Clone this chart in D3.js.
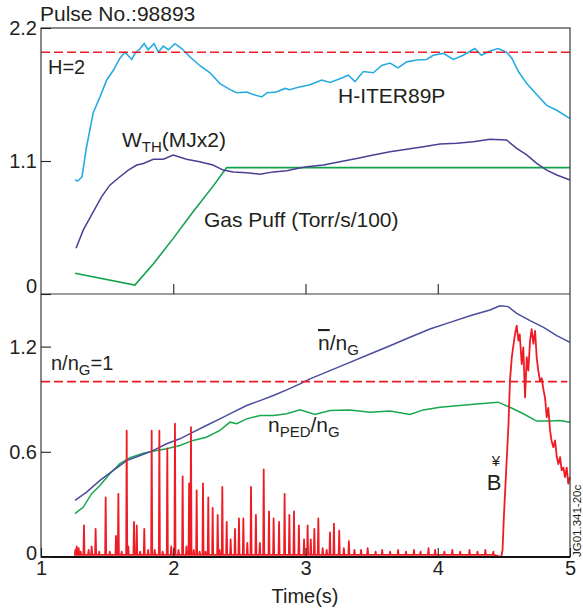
<!DOCTYPE html>
<html>
<head>
<meta charset="utf-8">
<script src="https://cdn.jsdelivr.net/npm/d3@7"></script>
<style>
  body { margin: 0; background: #fff; }
  text { font-family: "Liberation Sans", Arial, sans-serif; fill: #231f20; }
</style>
</head>
<body>
<div id="pulse"></div>
<script>
// tick values
var timeTicks = [1, 2, 3, 4, 5];
var topTicks = [0, 1.1, 2.2];
var bottomTicks = [0, 0.6, 1.2];

// top panel traces [time, value]
var hIter = [
    [1.257, 0.943], [1.28, 0.935], [1.31, 0.97], [1.345, 1.22], [1.395, 1.50], [1.446, 1.63],
    [1.497, 1.77], [1.547, 1.85], [1.597, 1.95], [1.635, 2.0], [1.686, 1.94], [1.71, 1.99],
    [1.75, 2.03], [1.78, 2.07], [1.81, 2.02], [1.854, 2.07], [1.887, 2.0], [1.925, 2.05],
    [1.963, 2.02], [2.013, 2.07], [2.064, 2.03], [2.127, 1.96], [2.20, 1.89], [2.278, 1.83],
    [2.353, 1.74], [2.43, 1.69], [2.48, 1.665], [2.555, 1.67], [2.605, 1.65], [2.669, 1.63],
    [2.71, 1.665], [2.78, 1.67], [2.845, 1.70], [2.88, 1.69], [2.946, 1.71], [3.034, 1.73],
    [3.122, 1.77], [3.185, 1.75], [3.26, 1.78], [3.324, 1.81], [3.374, 1.756], [3.437, 1.84],
    [3.513, 1.83], [3.576, 1.89], [3.639, 1.91], [3.70, 1.87], [3.765, 1.92], [3.84, 1.935],
    [3.916, 1.94], [3.966, 1.975], [4.042, 1.99], [4.118, 1.94], [4.193, 1.975], [4.28, 2.03],
    [4.33, 1.975], [4.395, 2.01], [4.457, 2.03], [4.52, 2.0], [4.56, 1.95], [4.61, 1.84],
    [4.673, 1.74], [4.748, 1.65], [4.824, 1.56], [4.90, 1.52], [5.0, 1.45]
];

var wTh = [
    [1.265, 0.378], [1.32, 0.53], [1.395, 0.68], [1.459, 0.805], [1.52, 0.90], [1.597, 0.97],
    [1.66, 1.025], [1.724, 1.067], [1.774, 1.08], [1.85, 1.114], [1.925, 1.114], [2.0, 1.15],
    [2.10, 1.114], [2.20, 1.094], [2.30, 1.067], [2.378, 1.025], [2.454, 1.01], [2.555, 1.003],
    [2.656, 0.99], [2.757, 1.01], [2.858, 1.02], [2.946, 1.04], [3.009, 1.053], [3.135, 1.067],
    [3.26, 1.094], [3.387, 1.12], [3.513, 1.15], [3.639, 1.177], [3.765, 1.197], [3.891, 1.218],
    [4.017, 1.24], [4.143, 1.246], [4.269, 1.26], [4.395, 1.28], [4.52, 1.274], [4.597, 1.205],
    [4.673, 1.15], [4.748, 1.08], [4.824, 1.025], [4.90, 0.984], [5.0, 0.943]
];

var gasPuff = [
    [1.257, 0.171], [1.71, 0.074], [1.85, 0.25], [2.0, 0.46], [2.15, 0.68], [2.30, 0.89],
    [2.404, 1.045], [3.0, 1.045], [4.0, 1.045], [5.0, 1.045]
];

// bottom panel traces
var nBar = [
    [1.257, 0.323], [1.345, 0.37], [1.446, 0.437], [1.547, 0.494], [1.648, 0.55], [1.75, 0.579],
    [1.85, 0.608], [1.95, 0.646], [2.05, 0.674], [2.15, 0.712], [2.25, 0.75], [2.353, 0.788],
    [2.454, 0.826], [2.555, 0.864], [2.656, 0.892], [2.757, 0.921], [2.858, 0.953], [2.958, 0.987],
    [3.034, 1.016], [3.185, 1.063], [3.336, 1.11], [3.488, 1.158], [3.639, 1.205], [3.79, 1.253],
    [3.941, 1.30], [4.093, 1.338], [4.244, 1.376], [4.395, 1.409], [4.47, 1.433], [4.533, 1.428],
    [4.597, 1.39], [4.698, 1.348], [4.80, 1.31], [4.90, 1.263], [5.0, 1.224]
];

var nPed = [
    [1.257, 0.247], [1.32, 0.285], [1.383, 0.361], [1.446, 0.408], [1.52, 0.475], [1.597, 0.532],
    [1.673, 0.566], [1.774, 0.592], [1.875, 0.608], [1.95, 0.617], [2.05, 0.636], [2.15, 0.665],
    [2.25, 0.683], [2.353, 0.722], [2.429, 0.769], [2.48, 0.76], [2.555, 0.788], [2.656, 0.807],
    [2.757, 0.807], [2.858, 0.817], [2.958, 0.839], [3.072, 0.813], [3.185, 0.835], [3.336, 0.839],
    [3.488, 0.826], [3.639, 0.832], [3.79, 0.813], [3.891, 0.839], [4.017, 0.854], [4.168, 0.864],
    [4.294, 0.873], [4.457, 0.883], [4.546, 0.854], [4.647, 0.817], [4.748, 0.775], [4.849, 0.775],
    [4.924, 0.778], [5.0, 0.769]
];

// D-alpha: ELM spikes [time, height] then the tail after 4.48 s
var dAlphaBase = 0.012;
var dAlphaSpikes = [
    [1.26, 0.04], [1.27, 0.06], [1.285, 0.05], [1.30, 0.03], [1.325, 0.18], [1.36, 0.04],
    [1.383, 0.06], [1.413, 0.16], [1.44, 0.03], [1.489, 0.34], [1.52, 0.03], [1.567, 0.12],
    [1.585, 0.36], [1.61, 0.03], [1.648, 0.72], [1.66, 0.06], [1.703, 0.2], [1.724, 0.18],
    [1.75, 0.03], [1.781, 0.16], [1.81, 0.04], [1.837, 0.72], [1.86, 0.04], [1.895, 0.72],
    [1.92, 0.03], [1.955, 0.62], [1.985, 0.06], [2.013, 0.76], [2.04, 0.04], [2.071, 0.46],
    [2.10, 0.06], [2.12, 0.42], [2.134, 0.74], [2.155, 0.04], [2.177, 0.38], [2.20, 0.03],
    [2.225, 0.42], [2.245, 0.03], [2.265, 0.34], [2.298, 0.28], [2.336, 0.24], [2.35, 0.04],
    [2.371, 0.40], [2.404, 0.2], [2.434, 0.1], [2.467, 0.16], [2.497, 0.22], [2.53, 0.22],
    [2.56, 0.08], [2.588, 0.40], [2.625, 0.24], [2.655, 0.08], [2.684, 0.50], [2.724, 0.26],
    [2.759, 0.22], [2.80, 0.20], [2.842, 0.36], [2.878, 0.24], [2.913, 0.26], [2.950, 0.18],
    [2.989, 0.10], [3.016, 0.18], [3.04, 0.1], [3.067, 0.16], [3.097, 0.22], [3.13, 0.05],
    [3.16, 0.04], [3.185, 0.14], [3.215, 0.19], [3.255, 0.15], [3.29, 0.05], [3.328, 0.09],
    [3.37, 0.04], [3.42, 0.04], [3.47, 0.05], [3.53, 0.03], [3.58, 0.04], [3.64, 0.03],
    [3.70, 0.04], [3.76, 0.03], [3.82, 0.04], [3.87, 0.03], [3.93, 0.05], [3.98, 0.04],
    [4.05, 0.03], [4.11, 0.04], [4.17, 0.03], [4.24, 0.04], [4.30, 0.03], [4.36, 0.04], [4.42, 0.03]
];
var dAlphaTail = [
    [4.48, 0.0], [4.49, 0.04], [4.50, 0.23], [4.51, 0.38], [4.535, 0.76], [4.546, 1.006],
    [4.56, 1.14], [4.57, 1.196], [4.584, 1.27], [4.597, 1.32], [4.61, 1.234], [4.62, 1.27],
    [4.635, 1.10], [4.647, 1.196], [4.66, 0.91], [4.673, 1.14], [4.685, 1.063], [4.698, 1.234],
    [4.71, 1.30], [4.723, 1.215], [4.736, 1.29], [4.748, 1.14], [4.76, 1.063], [4.773, 1.006],
    [4.786, 1.02], [4.80, 0.95], [4.811, 0.91], [4.824, 0.797], [4.836, 0.85], [4.849, 0.722],
    [4.86, 0.665], [4.874, 0.626], [4.887, 0.665], [4.90, 0.57], [4.912, 0.53], [4.925, 0.57],
    [4.937, 0.494], [4.95, 0.51], [4.962, 0.456], [4.975, 0.51], [4.987, 0.418], [5.0, 0.456]
];

var hLevel = 2.0;       // H=2 reference
var greenwald = 1.0;    // n/nG=1 reference

// dimensions
var width = 583, height = 612;
var left = 41, right = 570;
var topY = 28, midY = 294, botY = 557;

var svg = d3.select("#pulse")
    .append("svg")
    .attr("width", width)
    .attr("height", height);

var x = d3.scaleLinear().domain([1, 5]).range([left, right]);
var yTop = d3.scaleLinear().domain([0, 2.2]).range([midY, topY]);
var yBot = d3.scaleLinear().domain([0, 1.5]).range([botY, midY]);

var colors = {
    hIter: "#27aae1", wTh: "#4b3f95", gas: "#12a24b",
    nBar: "#4a4d9e", nPed: "#18a84d", red: "#ee1c25"
};

function lineTop(data) {
    return d3.line().x(function(d) { return x(d[0]); }).y(function(d) { return yTop(d[1]); })(data);
}
function lineBot(data) {
    return d3.line().x(function(d) { return x(d[0]); }).y(function(d) { return yBot(d[1]); })(data);
}

// ---- top panel ----
svg.append("path").attr("d", lineTop(gasPuff))
    .attr("fill", "none").attr("stroke", colors.gas).attr("stroke-width", 1.6);
svg.append("path").attr("d", lineTop(wTh))
    .attr("fill", "none").attr("stroke", colors.wTh).attr("stroke-width", 1.5);
svg.append("path").attr("d", lineTop(hIter))
    .attr("fill", "none").attr("stroke", colors.hIter).attr("stroke-width", 1.6);
svg.append("line")
    .attr("x1", x(1)).attr("x2", x(5))
    .attr("y1", yTop(hLevel)).attr("y2", yTop(hLevel))
    .attr("stroke", colors.red).attr("stroke-width", 1.6)
    .attr("stroke-dasharray", "9,4");

// ---- bottom panel ----
svg.append("path").attr("d", lineBot(nPed))
    .attr("fill", "none").attr("stroke", colors.nPed).attr("stroke-width", 1.5);
svg.append("path").attr("d", lineBot(nBar))
    .attr("fill", "none").attr("stroke", colors.nBar).attr("stroke-width", 1.5);
svg.append("line")
    .attr("x1", x(1)).attr("x2", x(4.98))
    .attr("y1", yBot(greenwald)).attr("y2", yBot(greenwald))
    .attr("stroke", colors.red).attr("stroke-width", 1.6)
    .attr("stroke-dasharray", "9,4");

// build the D-alpha trace: baseline with narrow spikes, then the tail
var halfW = 0.004;
var dAlpha = [[1.25, dAlphaBase]];
dAlphaSpikes.forEach(function(s) {
    dAlpha.push([s[0] - halfW, dAlphaBase], [s[0], s[1]], [s[0] + halfW, dAlphaBase]);
});
dAlpha = dAlpha.concat(dAlphaTail);
svg.append("path").attr("d", lineBot(dAlpha))
    .attr("fill", "none").attr("stroke", colors.red).attr("stroke-width", 1.8)
    .attr("stroke-linejoin", "round");

// ---- frames and axes ----
var frame = svg.append("g").attr("stroke", "#3a3a3a").attr("fill", "none");
frame.append("rect").attr("x", left).attr("y", topY)
    .attr("width", right - left).attr("height", botY - topY).attr("stroke-width", 1.2);
frame.append("line").attr("x1", left).attr("x2", right)
    .attr("y1", midY).attr("y2", midY).attr("stroke-width", 1.2);
frame.append("line").attr("x1", left).attr("x2", right)
    .attr("y1", botY).attr("y2", botY).attr("stroke-width", 1.8).attr("stroke", "#111");

function styleAxis(g) {
    g.select(".domain").remove();
    g.selectAll(".tick line").attr("stroke", "#222").attr("stroke-width", 1.1);
    g.selectAll(".tick text")
        .style("font-family", "'Liberation Sans', Arial, sans-serif")
        .style("font-size", "20px").attr("fill", "#231f20");
}

svg.append("g")
    .attr("transform", "translate(" + left + ",0)")
    .call(d3.axisLeft(yTop).tickValues(topTicks).tickSizeInner(-10).tickSizeOuter(0)
        .tickPadding(4).tickFormat(d3.format("")))
    .call(styleAxis)
    .selectAll(".tick text").attr("dy", function(d) { return d === 0 ? "-0.1em" : "0.32em"; });

svg.append("g")
    .attr("transform", "translate(" + left + ",0)")
    .call(d3.axisLeft(yBot).tickValues(bottomTicks).tickSizeInner(-10).tickSizeOuter(0)
        .tickPadding(4).tickFormat(d3.format("")))
    .call(styleAxis)
    .selectAll(".tick text").attr("dy", function(d) { return d === 0 ? "0.1em" : "0.32em"; });

// x ticks pointing up in both panels
svg.append("g")
    .attr("transform", "translate(0," + midY + ")")
    .call(d3.axisBottom(x).tickValues(timeTicks.slice(1, -1)).tickSizeInner(-10).tickSizeOuter(0)
        .tickFormat(""))
    .call(styleAxis);

svg.append("g")
    .attr("transform", "translate(0," + botY + ")")
    .call(d3.axisBottom(x).tickValues(timeTicks).tickSizeInner(-9).tickSizeOuter(0)
        .tickPadding(4).tickFormat(d3.format("")))
    .call(styleAxis);

// ---- text ----
function label(xp, yp, size) {
    return svg.append("text").attr("x", xp).attr("y", yp).style("font-size", size + "px");
}

label(40, 21, 21).text("Pulse No.:98893");
label(305, 603, 20).attr("text-anchor", "middle").text("Time(s)");
label(48, 74, 20).text("H=2");
label(338, 103, 21).text("H-ITER89P");

var wl = label(122, 147, 21);
wl.append("tspan").text("W");
wl.append("tspan").attr("dy", 5).style("font-size", "15px").text("TH");
wl.append("tspan").attr("dy", -5).text("(MJx2)");

label(204, 227, 21).text("Gas Puff (Torr/s/100)");

var gl = label(51, 370, 20);
gl.append("tspan").text("n/n");
gl.append("tspan").attr("dy", 5).style("font-size", "15px").text("G");
gl.append("tspan").attr("dy", -5).text("=1");

var nl = label(318, 350, 21);
nl.append("tspan").style("text-decoration", "overline").text("n");
nl.append("tspan").text("/n");
nl.append("tspan").attr("dy", 5).style("font-size", "15px").text("G");

var pl = label(268, 432, 21);
pl.append("tspan").text("n");
pl.append("tspan").attr("dy", 5).style("font-size", "15px").text("PED");
pl.append("tspan").attr("dy", -5).text("/n");
pl.append("tspan").attr("dy", 5).style("font-size", "15px").text("G");

label(496, 466, 15).attr("text-anchor", "middle").text("¥");
label(494, 490, 22).attr("text-anchor", "middle").text("B");

svg.append("text")
    .attr("transform", "translate(581,557) rotate(-90)")
    .style("font-size", "11.5px")
    .text("JG01.341-20c");
</script>
</body>
</html>
